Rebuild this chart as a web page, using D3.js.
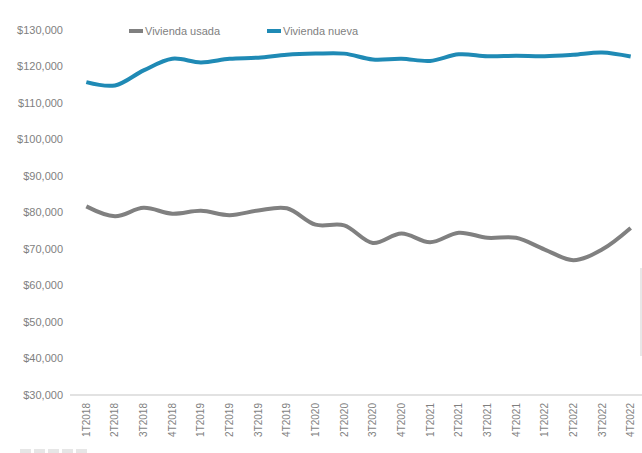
<!DOCTYPE html>
<html>
<head>
<meta charset="utf-8">
<script src="https://cdn.jsdelivr.net/npm/d3@7"></script>
<style>
  html, body { margin: 0; padding: 0; background: #fff; }
  svg { display: block; font-family: "Liberation Sans", Arial, sans-serif; }
</style>
</head>
<body>
<svg id="chart" width="642" height="453"></svg>
<script>
const categories = ["1T2018","2T2018","3T2018","4T2018","1T2019","2T2019","3T2019","4T2019",
  "1T2020","2T2020","3T2020","4T2020","1T2021","2T2021","3T2021","4T2021",
  "1T2022","2T2022","3T2022","4T2022"];
const viviendaUsada = [81600, 78900, 81200, 79600, 80400, 79200, 80500, 81100,
  76600, 76400, 71600, 74200, 71800, 74400, 73000, 73000,
  69800, 66900, 69800, 75700];
const viviendaNueva = [115600, 114700, 118800, 122000, 121000, 122000, 122300, 123100,
  123400, 123400, 121800, 122000, 121400, 123200, 122700, 122800,
  122700, 123100, 123700, 122600];
const yTicks = [30000, 40000, 50000, 60000, 70000, 80000, 90000, 100000, 110000, 120000, 130000];
const seriesNames = ["Vivienda usada", "Vivienda nueva"];
const seriesColors = ["#808080", "#1f8ab5"];

const svg = d3.select("#chart");
const x = d3.scaleBand().domain(categories).range([72, 645]).padding(0);
const y = d3.scaleLinear().domain([30000, 130000]).range([395, 29.5]);
const cx = d => x(d) + x.bandwidth() / 2;

// baseline
svg.append("line")
  .attr("x1", 70).attr("x2", 642)
  .attr("y1", y(30000)).attr("y2", y(30000))
  .attr("stroke", "#d9d9d9").attr("stroke-width", 1.5);

// y axis labels
const yAxis = d3.axisLeft(y).tickValues(yTicks).tickSize(0).tickPadding(0)
  .tickFormat(d => "$" + d3.format(",")(d));
const gy = svg.append("g").attr("transform", "translate(63,0)").call(yAxis);
gy.select(".domain").remove();
gy.selectAll("text").attr("fill", "#7f7f7f").attr("font-size", 11)
  .attr("font-family", "'Liberation Sans', Arial, sans-serif");

// x axis labels
const xAxis = d3.axisBottom(x).tickSize(0).tickPadding(0);
const gx = svg.append("g").attr("transform", "translate(0,403)").call(xAxis);
gx.select(".domain").remove();
gx.selectAll("text")
  .attr("fill", "#7f7f7f").attr("font-size", 10)
  .attr("font-family", "'Liberation Sans', Arial, sans-serif")
  .attr("transform", "rotate(-90)")
  .attr("text-anchor", "end")
  .attr("x", 0).attr("y", 0).attr("dy", "0.35em");

// lines
const line = d3.line()
  .x((d, i) => cx(categories[i]))
  .y(d => y(d))
  .curve(d3.curveCatmullRom.alpha(0.5));

[viviendaUsada, viviendaNueva].forEach((vals, k) => {
  svg.append("path")
    .datum(vals)
    .attr("d", line)
    .attr("fill", "none")
    .attr("stroke", seriesColors[k])
    .attr("stroke-width", 4)
    .attr("stroke-linecap", "butt")
    .attr("stroke-linejoin", "round");
});

// legend
const legendX = [129, 267];
seriesNames.forEach((name, k) => {
  const g = svg.append("g").attr("transform", `translate(${legendX[k]},31)`);
  g.append("line").attr("x1", 0).attr("x2", 14).attr("y1", 0).attr("y2", 0)
    .attr("stroke", seriesColors[k]).attr("stroke-width", 4);
  g.append("text").attr("x", 16).attr("y", 0).attr("dy", "0.35em")
    .attr("fill", "#7f7f7f").attr("font-size", 11).text(name);
});

// faint decorations at edges
[20, 34, 48, 62, 76].forEach(px => {
  svg.append("rect").attr("x", px).attr("y", 449).attr("width", 11).attr("height", 4)
    .attr("fill", "#e6e6e6");
});
svg.append("rect").attr("x", 640).attr("y", 268).attr("width", 2).attr("height", 88)
  .attr("fill", "#e8e8e8");
</script>
</body>
</html>
